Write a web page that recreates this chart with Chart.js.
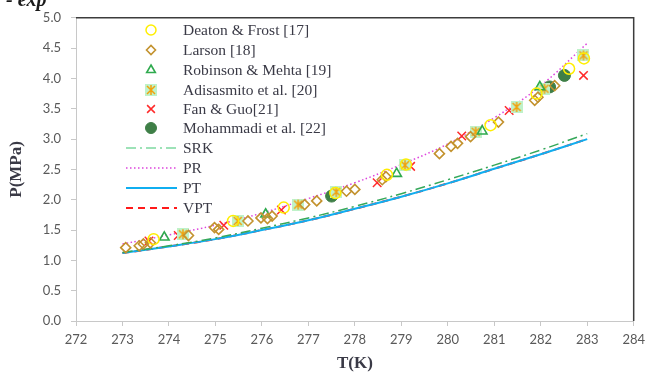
<!DOCTYPE html>
<html>
<head>
<meta charset="utf-8">
<script src="https://cdn.jsdelivr.net/npm/chart.js@4"></script>
<style>
  html, body { margin: 0; padding: 0; background: #fff; }
  #wrap { position: relative; width: 651px; height: 373px; }
</style>
</head>
<body>
<div id="wrap"><canvas id="chart" width="651" height="373"></canvas></div>
<script>
// axis ranges
const xMin = 272, xMax = 284, yMin = 0, yMax = 5;

// experimental data [T(K), P(MPa)]
const deatonFrost = [[273.67, 1.35], [275.38, 1.65], [276.47, 1.87], [277.58, 2.11], [278.69, 2.41],
  [279.1, 2.58], [280.92, 3.23], [281.91, 3.75], [282.61, 4.16], [282.93, 4.33]];
const larson = [[273.07, 1.21], [273.36, 1.24], [273.45, 1.27], [273.6, 1.29], [274.42, 1.41],
  [274.98, 1.54], [275.07, 1.51], [275.7, 1.65], [275.98, 1.70], [276.12, 1.69], [276.22, 1.73],
  [276.92, 1.92], [277.18, 1.98], [277.82, 2.14], [278.0, 2.17], [278.59, 2.33], [278.67, 2.38],
  [279.82, 2.76], [280.07, 2.88], [280.21, 2.93], [280.49, 3.04], [281.09, 3.28], [281.87, 3.64],
  [281.94, 3.69], [282.3, 3.88]];
const robinsonMehta = [[273.9, 1.38], [276.08, 1.76], [278.9, 2.43], [280.74, 3.13], [281.98, 3.86]];
const adisasmito = [[274.3, 1.43], [275.48, 1.65], [276.78, 1.92], [277.6, 2.13], [279.08, 2.57],
  [280.6, 3.12], [281.48, 3.53], [282.08, 3.83], [282.92, 4.38]];
const fanGuo = [[273.57, 1.32], [274.2, 1.41], [275.18, 1.58], [276.42, 1.83], [278.48, 2.28],
  [279.2, 2.55], [280.3, 3.05], [281.32, 3.47], [282.92, 4.05]];
const mohammadi = [[277.5, 2.06], [282.19, 3.86], [282.51, 4.05]];

// model curves
const modelT = [273, 274, 275, 276, 277, 278, 279, 280, 281, 282, 283];
const srkP = [1.13, 1.24, 1.37, 1.53, 1.70, 1.89, 2.10, 2.33, 2.57, 2.82, 3.09];
const prP  = [1.27, 1.42, 1.58, 1.78, 2.02, 2.28, 2.58, 2.92, 3.35, 3.88, 4.58];
const ptP  = [1.12, 1.23, 1.35, 1.50, 1.66, 1.85, 2.05, 2.27, 2.51, 2.75, 3.00];
const vptP = [1.12, 1.23, 1.35, 1.50, 1.66, 1.85, 2.05, 2.27, 2.51, 2.75, 3.00];

const toXY = arr => arr.map(p => ({ x: p[0], y: p[1] }));
const curve = vals => modelT.map((t, i) => ({ x: t, y: vals[i] }));

// asterisk on pale green square (Excel style marker)
function starMarker(size) {
  const c = document.createElement("canvas");
  c.width = size; c.height = size;
  const g = c.getContext("2d");
  const m = size / 2;
  g.fillStyle = "#bff2c9";
  g.fillRect(0, 0, size, size);
  g.strokeStyle = "#f2a20c";
  g.lineWidth = 1.5;
  g.beginPath();
  g.moveTo(m, 1); g.lineTo(m, size - 1);
  g.moveTo(2, 2); g.lineTo(size - 2, size - 2);
  g.moveTo(size - 2, 2); g.lineTo(2, size - 2);
  g.stroke();
  return c;
}
const star = starMarker(12);

const styles = [
  { label: "Deaton & Frost [17]", data: deatonFrost, pointStyle: "circle", radius: 5.5, lr: 5, border: "#ffee00", fill: "transparent", bw: 1.5 },
  { label: "Larson [18]", data: larson, pointStyle: "rectRot", radius: 5, lr: 4.5, border: "#c3922e", fill: "transparent", bw: 1.6 },
  { label: "Robinson & Mehta [19]", data: robinsonMehta, pointStyle: "triangle", radius: 5.5, lr: 5, border: "#2faa4e", fill: "transparent", bw: 1.6 },
  { label: "Adisasmito et al. [20]", data: adisasmito, pointStyle: star, radius: 6, lr: 6, border: "#f2a20c", fill: "transparent", bw: 1 },
  { label: "Fan & Guo[21]", data: fanGuo, pointStyle: "crossRot", radius: 6, lr: 5.5, border: "#ff2a2a", fill: "transparent", bw: 1.5 },
  { label: "Mohammadi et al. [22]", data: mohammadi, pointStyle: "circle", radius: 6, lr: 5.5, border: "#3f7f47", fill: "#3f7f47", bw: 1 }
];
const lines = [
  { label: "SRK", data: srkP, color: "#35a85a", legendColor: "#7dd9a0", dash: [10, 4, 2, 4], width: 1.5 },
  { label: "PR", data: prP, color: "#dd44dd", legendColor: "#dd44dd", dash: [1.5, 2.5], width: 1.5 },
  { label: "PT", data: ptP, color: "#10aef0", legendColor: "#10aef0", dash: [], width: 2 },
  { label: "VPT", data: vptP, color: "#ff1a1a", legendColor: "#ff1a1a", dash: [7, 5], width: 2 }
];

const datasets = [];
styles.forEach(s => datasets.push({
  label: s.label, data: toXY(s.data), showLine: false,
  pointStyle: s.pointStyle, pointRadius: s.radius, pointHoverRadius: s.radius,
  pointBorderColor: s.border, pointBackgroundColor: s.fill, pointBorderWidth: s.bw
}));
lines.forEach(l => datasets.push({
  label: l.label, data: curve(l.data), showLine: true, pointRadius: 0,
  borderColor: l.color, borderDash: l.dash, borderWidth: l.width, tension: 0.4, fill: false
}));

// frame, axis titles, caption and legend
const extras = {
  id: "extras",
  afterDraw(chart) {
    const ctx = chart.ctx;
    const a = chart.chartArea;
    ctx.save();
    ctx.strokeStyle = "#3c3c3c";
    ctx.lineWidth = 1.5;
    ctx.beginPath();
    ctx.moveTo(a.left, a.top); ctx.lineTo(a.right, a.top); ctx.lineTo(a.right, a.bottom);
    ctx.stroke();

    ctx.fillStyle = "#3a3a46";
    ctx.font = "bold 17px 'Liberation Serif'";
    ctx.textAlign = "center";
    ctx.textBaseline = "middle";
    ctx.fillText("T(K)", (a.left + a.right) / 2, 364);
    ctx.save();
    ctx.translate(17, (a.top + a.bottom) / 2);
    ctx.rotate(-Math.PI / 2);
    ctx.fillText("P(MPa)", 0, 0);
    ctx.restore();

    ctx.font = "bold italic 20px 'Liberation Serif'";
    ctx.textAlign = "left";
    ctx.textBaseline = "alphabetic";
    ctx.fillStyle = "#1a1a1a";
    ctx.fillText("- exp", 6, 6);

    const rowsY = [30, 50, 70, 90, 109, 128, 148, 168, 188, 208];
    ctx.font = "15.5px 'Liberation Serif'";
    ctx.textAlign = "left";
    ctx.textBaseline = "middle";
    styles.forEach((s, i) => {
      ctx.strokeStyle = s.border;
      ctx.fillStyle = s.fill;
      ctx.lineWidth = s.bw;
      Chart.helpers.drawPoint(ctx, { pointStyle: s.pointStyle, radius: s.lr, rotation: 0, borderWidth: s.bw }, 151, rowsY[i]);
      ctx.fillStyle = "#3a3a46";
      ctx.fillText(s.label, 183, rowsY[i] + 1);
    });
    lines.forEach((l, j) => {
      const y = rowsY[6 + j];
      ctx.strokeStyle = l.legendColor;
      ctx.lineWidth = l.width;
      ctx.setLineDash(l.dash);
      ctx.beginPath();
      ctx.moveTo(126, y); ctx.lineTo(177, y);
      ctx.stroke();
      ctx.setLineDash([]);
      ctx.fillStyle = "#3a3a46";
      ctx.fillText(l.label, 183, y + 1);
    });
    ctx.restore();
  }
};

new Chart(document.getElementById("chart"), {
  type: "scatter",
  data: { datasets: datasets },
  options: {
    responsive: false,
    animation: false,
    layout: { padding: { top: 15, right: 9, left: 0, bottom: 0 } },
    plugins: { legend: { display: false }, tooltip: { enabled: false } },
    scales: {
      x: {
        type: "linear", min: xMin, max: xMax,
        afterFit: s => { s.height = 52; },
        ticks: { stepSize: 1, color: "#595959", font: { family: "Lato", size: 13 }, padding: 6, maxRotation: 0 },
        grid: { drawOnChartArea: false, drawTicks: true, tickLength: 5, color: "#c8c8c8" },
        border: { color: "#c8c8c8" }
      },
      y: {
        type: "linear", min: yMin, max: yMax,
        afterFit: s => { s.width = 76; },
        ticks: { stepSize: 0.5, color: "#595959", font: { family: "Lato", size: 13 }, padding: 10,
          callback: v => v.toFixed(1) },
        grid: { drawOnChartArea: false, drawTicks: true, tickLength: 5, color: "#c8c8c8" },
        border: { color: "#c8c8c8" }
      }
    }
  },
  plugins: [extras]
});
</script>
</body>
</html>
